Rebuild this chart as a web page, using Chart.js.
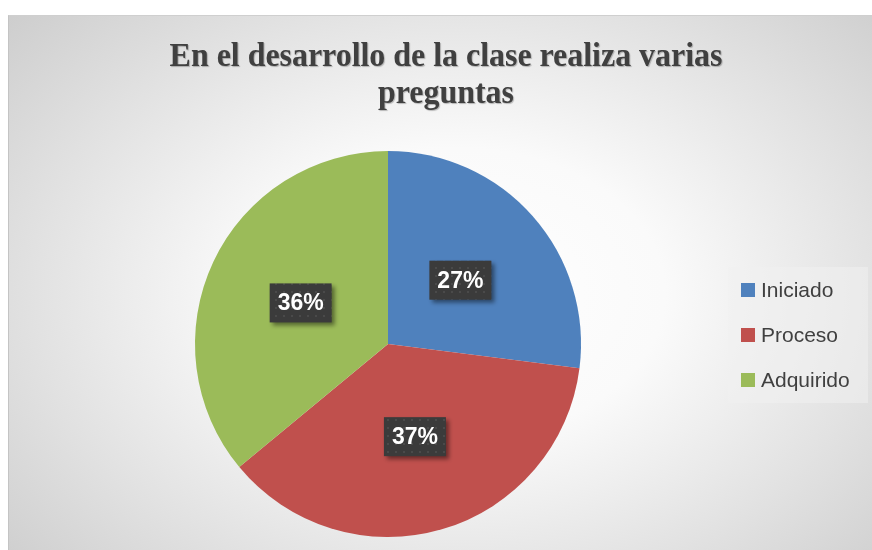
<!DOCTYPE html>
<html>
<head>
<meta charset="utf-8">
<script src="https://cdn.jsdelivr.net/npm/chart.js@4/dist/chart.umd.min.js"></script>
<style>
  html, body { margin: 0; padding: 0; background: #ffffff; }
  #frame {
    position: absolute; left: 8px; top: 15px; width: 864px; height: 535px;
    box-sizing: border-box; border-left: 1px solid #c4c4c4; border-top: 1px solid #cfcfcf;
    background: radial-gradient(ellipse 75% 85% at 52% 52%, #ffffff 0%, #fafafa 32%, #e2e2e2 65%, #c8c8c8 100%);
  }
  #wrap { position: absolute; left: 0; top: 0; width: 872px; height: 550px; }
</style>
</head>
<body>
<div id="frame"></div>
<div id="wrap"><canvas id="pieChart"></canvas></div>
<script>
const titleLines = ['En el desarrollo de la clase realiza varias', 'preguntas'];
const categories = ['Iniciado', 'Proceso', 'Adquirido'];
const percentages = [27, 37, 36];
const sliceColors = ['#4f81bd', '#c0504d', '#9bbb59'];

function makeLabelPattern(ctx) {
    const c = document.createElement('canvas');
    c.width = 8; c.height = 8;
    const p = c.getContext('2d');
    p.fillStyle = '#3b3b3b';
    p.fillRect(0, 0, 8, 8);
    p.fillStyle = '#4a4a4a';
    p.fillRect(3, 3, 2, 2);
    return ctx.createPattern(c, 'repeat');
}

const decorPlugin = {
    id: 'decor',
    afterDraw(chart) {
        const ctx = chart.ctx;
        // title, slightly condensed like the original
        ctx.save();
        ctx.translate(446, 0);
        ctx.scale(0.967, 1);
        ctx.font = 'bold 33px "Liberation Serif"';
        ctx.fillStyle = '#404040';
        ctx.textAlign = 'center';
        ctx.textBaseline = 'alphabetic';
        ctx.shadowColor = 'rgba(0,0,0,0.25)';
        ctx.shadowOffsetX = 1;
        ctx.shadowOffsetY = 1;
        ctx.shadowBlur = 1;
        ctx.fillText(titleLines[0], 0, 66);
        ctx.fillText(titleLines[1], 0, 103);
        ctx.restore();

        // data labels
        const meta = chart.getDatasetMeta(0);
        const pattern = makeLabelPattern(ctx);
        meta.data.forEach((arc, i) => {
            const pos = arc.tooltipPosition();
            const w = 62, h = 39;
            ctx.save();
            ctx.shadowColor = 'rgba(0,0,0,0.45)';
            ctx.shadowOffsetX = 3;
            ctx.shadowOffsetY = 3;
            ctx.shadowBlur = 4;
            ctx.fillStyle = pattern;
            ctx.fillRect(pos.x - w / 2, pos.y - h / 2, w, h);
            ctx.restore();
            ctx.save();
            ctx.font = 'bold 23px "Liberation Sans"';
            ctx.fillStyle = '#ffffff';
            ctx.textAlign = 'center';
            ctx.textBaseline = 'middle';
            ctx.fillText(percentages[i] + '%', pos.x, pos.y + 1);
            ctx.restore();
        });

        // legend
        ctx.save();
        ctx.fillStyle = 'rgba(240,240,240,0.55)';
        ctx.fillRect(728, 267, 140, 136);
        ctx.font = '21px "Liberation Sans"';
        ctx.textBaseline = 'middle';
        ctx.textAlign = 'left';
        categories.forEach((label, i) => {
            const y = 290 + i * 45;
            ctx.fillStyle = sliceColors[i];
            ctx.fillRect(741, y - 7, 14, 14);
            ctx.fillStyle = '#404040';
            ctx.fillText(label, 761, y + 1);
        });
        ctx.restore();
    }
};

new Chart(document.getElementById('pieChart'), {
    type: 'pie',
    data: {
        labels: categories,
        datasets: [{
            data: percentages,
            backgroundColor: sliceColors,
            borderWidth: 0
        }]
    },
    options: {
        responsive: true,
        maintainAspectRatio: false,
        animation: false,
        layout: { padding: { left: 195, right: 291, top: 151, bottom: 13 } },
        plugins: {
            legend: { display: false },
            title: { display: false },
            tooltip: { enabled: false }
        }
    },
    plugins: [decorPlugin]
});
</script>
</body>
</html>
